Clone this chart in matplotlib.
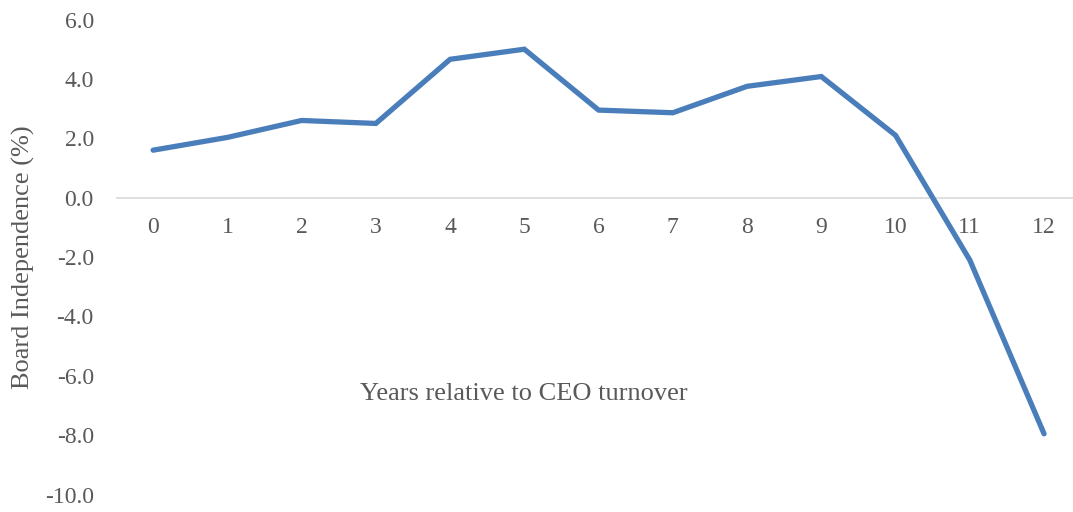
from matplotlib import pyplot as plt
import numpy as np

# years relative to CEO turnover
years = list(range(13))
independence = [1.6, 2.03, 2.6, 2.5, 4.66, 5.0, 2.95, 2.86, 3.75, 4.08, 2.1, -2.1, -7.95]
y_ticks = [-10, -8, -6, -4, -2, 0, 2, 4, 6]

plt.rcParams['font.family'] = ['Liberation Serif', 'DejaVu Serif']
grey = '#595959'

fig = plt.figure(figsize=(10.73, 5.12), dpi=100)
ax = fig.add_axes([116 / 1073, 1 - 494.7 / 512, 1 - 116 / 1073, (494.7 - 19.5) / 512])

ax.axhline(0, color='#d9d9d9', linewidth=1.2, zorder=1)
ax.plot(years, independence, color='#4a7ebb', linewidth=3.8,
        solid_capstyle='round', solid_joinstyle='miter', zorder=3)

ax.set_xlim(-0.5, 12.39)
ax.set_ylim(-10, 6)
ax.set_xticks([])
ax.set_yticks(y_ticks)
ax.set_yticklabels([f'{v:.1f}' for v in y_ticks], color=grey, fontsize=17)
ax.tick_params(axis='y', length=0, pad=16)
for s in ax.spines.values():
    s.set_visible(False)

# category labels sit just under the zero line
for yr in years:
    ax.text(yr, -1.0, str(yr), ha='center', va='center', fontsize=17, color=grey)

ax.set_ylabel('Board Independence (%)', fontsize=19, color=grey)
ax.yaxis.set_label_coords(-0.085, 0.5)
fig.text(524 / 1073, 1 - 394 / 512, 'Years relative to CEO turnover',
         ha='center', va='center', fontsize=19, color=grey)

plt.savefig('out.png', dpi=100)
